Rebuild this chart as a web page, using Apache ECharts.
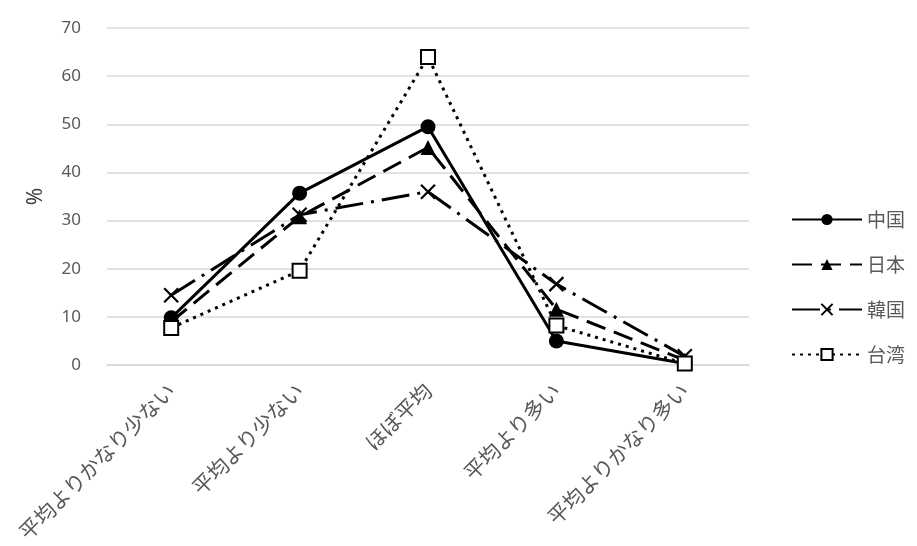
<!DOCTYPE html>
<html><head><meta charset="utf-8">
<script src="https://cdn.jsdelivr.net/npm/echarts@6/dist/echarts.min.js"></script>
<style>html,body{margin:0;padding:0;background:#fff}#c{width:917px;height:546px}</style>
</head><body><div id="c"></div>
<script>
const categories = ['平均よりかなり少ない','平均より少ない','ほぼ平均','平均より多い','平均よりかなり多い'];
const china = [9.8, 35.7, 49.5, 5.0, 0.3];
const japan = [9.0, 30.8, 45.2, 11.6, 1.0];
const korea = [14.5, 31.2, 36.0, 16.8, 1.8];
const taiwan = [7.7, 19.6, 64.0, 8.2, 0.3];
const yTicks = {min: 0, max: 70, interval: 10};

const chart = echarts.init(document.getElementById('c'));
const font = '"Noto Sans CJK JP", "Noto Sans", sans-serif';
function s(name, data, symbol, symbolSize, lineType, fill){
  return {name, type:'line', data, symbol, symbolSize,
    lineStyle:{color:'#000', width:3, type:lineType, cap:'butt'},
    itemStyle:{color:fill, borderColor:'#000', borderWidth: symbol==='rect'?2:(symbol.startsWith('path')?2.2:0)},
    emphasis:{disabled:true}, animation:false};
}
chart.setOption({
  animation:false,
  grid:{left:107, right:168, top:28, bottom:181},
  legend:{orient:'vertical', left:786, top:205, itemWidth:70, itemHeight:14, itemGap:26,
    textStyle:{color:'#595959', fontSize:19, fontFamily:font},
    data:['中国','日本','韓国','台湾']},
  xAxis:{type:'category', data:categories, boundaryGap:true,
    axisLine:{show:true, lineStyle:{color:'#d9d9d9', width:1.5}}, axisTick:{show:false},
    axisLabel:{rotate:45, color:'#595959', fontSize:21, fontFamily:font, margin:22, interval:0}},
  yAxis:{type:'value', min:yTicks.min, max:yTicks.max, interval:yTicks.interval,
    name:'%', nameLocation:'middle', nameGap:60, nameRotate:90,
    nameTextStyle:{color:'#404040', fontSize:21, fontFamily:'"Noto Sans", sans-serif'},
    axisLine:{show:false}, axisTick:{show:false},
    axisLabel:{color:'#595959', fontSize:17, fontFamily:'"Noto Sans", sans-serif', margin:26},
    splitLine:{lineStyle:{color:'#d9d9d9', width:1.5}}},
  series:[
    s('中国', china, 'circle', 15, 'solid', '#000'),
    s('日本', japan, 'triangle', 15, [20,9], '#000'),
    s('韓国', korea, 'path://M0,0L10,10M10,0L0,10', 14, [28,8,3,8], '#000'),
    s('台湾', taiwan, 'rect', 14, [3,5], '#fff')
  ]
});
</script></body></html>
